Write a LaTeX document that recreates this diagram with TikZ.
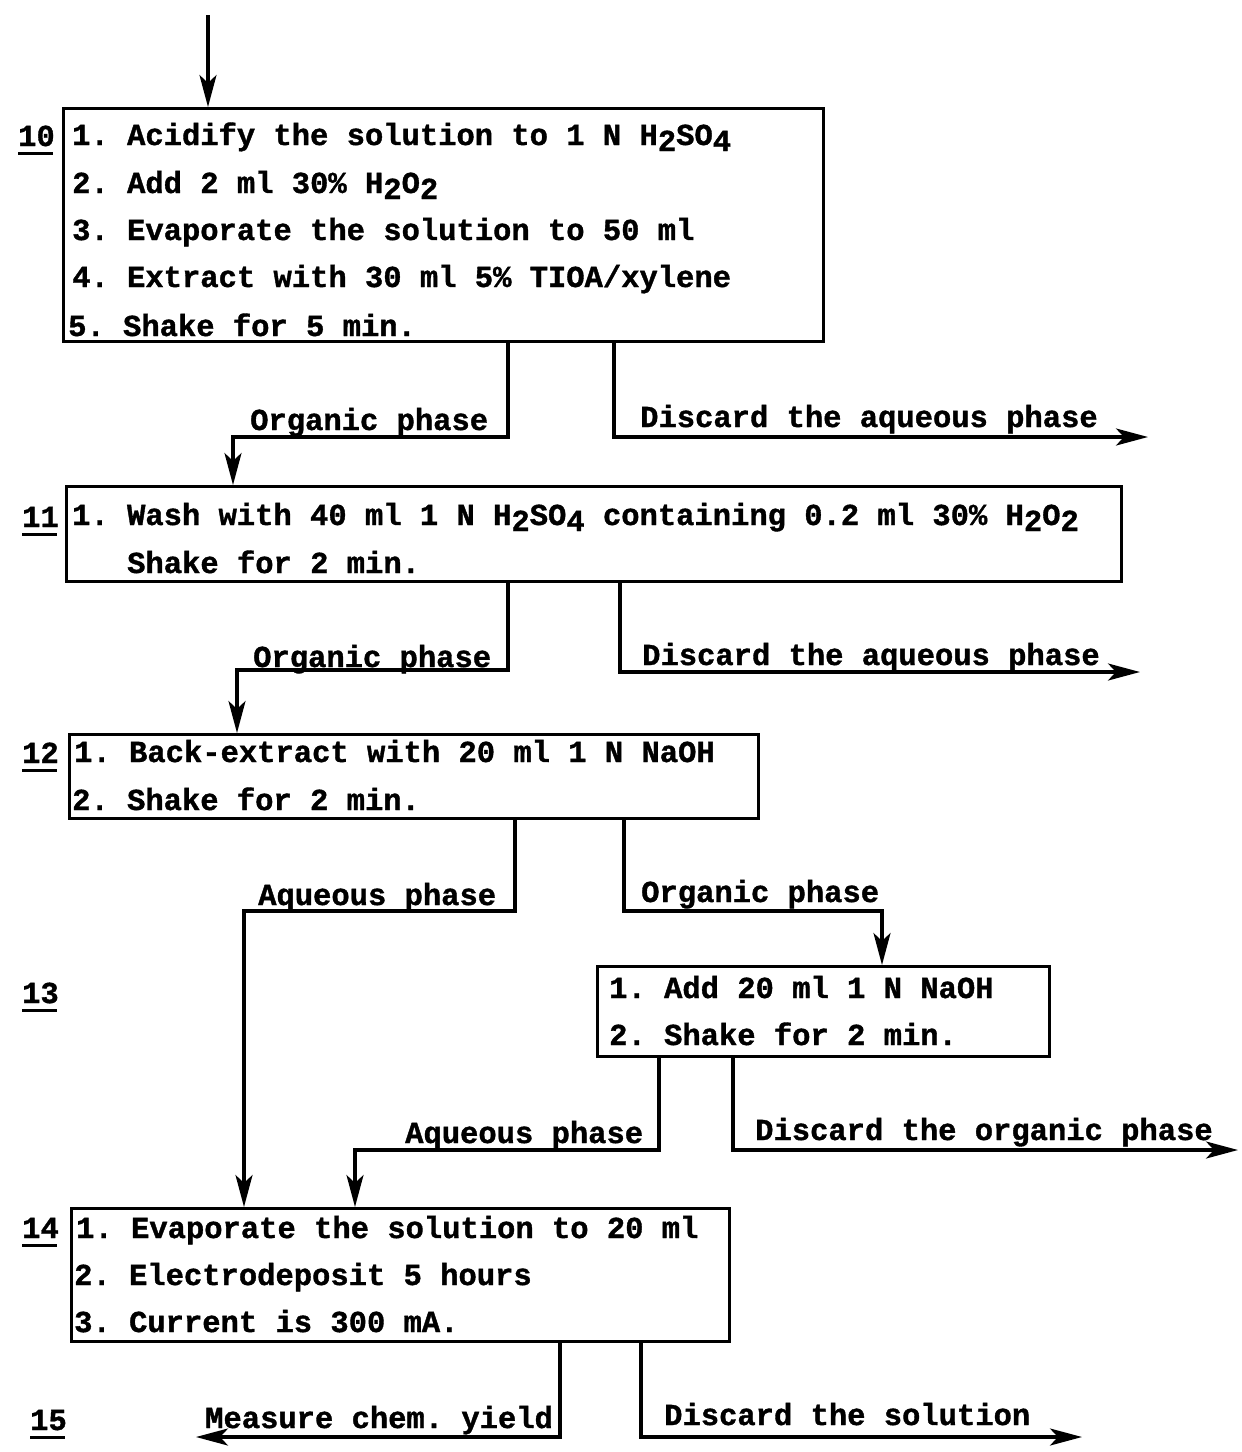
\documentclass[tikz,border=0pt]{standalone}
\usepackage{fontspec}
\setmonofont[BoldFeatures={FakeBold=1.2}]{Liberation Mono}
\usetikzlibrary{arrows.meta}
\newcommand\lowr[1]{\raisebox{-6pt}{#1}}
\newcommand\stepnum[1]{\rlap{\raisebox{-9pt}{\rule{1.15em}{2.6pt}}}#1}
\begin{document}
\begin{tikzpicture}[x=1pt,y=-1pt,
  box/.style={draw,line width=3.4pt,inner sep=0pt,anchor=north west},
  txt/.style={anchor=base west,inner sep=0pt,font=\ttfamily\bfseries\fontsize{30.5}{30.5}\selectfont},
  num/.style={txt},
  flow/.style={line width=3.2pt},
  arr/.style={flow,-{Stealth[length=32pt,width=17pt,inset=8pt]}}]
\useasboundingbox (0,0) rectangle (1242,1452);
\fill[white] (0,0) rectangle (1242,1452);

% boxes
\node[box,minimum width=760pt,minimum height=233pt] (b10) at (62,107) {};
\node[box,minimum width=1055pt,minimum height=95pt] (b11) at (65,485) {};
\node[box,minimum width=689pt,minimum height=84pt] (b12) at (68,733) {};
\node[box,minimum width=452pt,minimum height=90pt] (b13) at (596,965) {};
\node[box,minimum width=658pt,minimum height=133pt] (b14) at (70,1207) {};

% step numbers
\node[num] (n10) at (18,146) {\stepnum{10}};
\node[num] (n11) at (22,527) {\stepnum{11}};
\node[num] (n12) at (22,763) {\stepnum{12}};
\node[num] (n13) at (22,1003) {\stepnum{13}};
\node[num] (n14) at (22,1238) {\stepnum{14}};
\node[num] (n15) at (30,1430) {\stepnum{15}};

% box 10 text
\node[txt] (t10a) at (72,145) {1. Acidify the solution to 1 N H\lowr{2}SO\lowr{4}};
\node[txt] (t10b) at (72,193) {2. Add 2 ml 30\% H\lowr{2}O\lowr{2}};
\node[txt] (t10c) at (72,240) {3. Evaporate the solution to 50 ml};
\node[txt] (t10d) at (72,287) {4. Extract with 30 ml 5\% TIOA/xylene};
\node[txt] (t10e) at (68,336) {5. Shake for 5 min.};

% box 11 text
\node[txt] (t11a) at (72,525) {1. Wash with 40 ml 1 N H\lowr{2}SO\lowr{4} containing 0.2 ml 30\% H\lowr{2}O\lowr{2}};
\node[txt] (t11b) at (127,573) {Shake for 2 min.};

% box 12 text
\node[txt] (t12a) at (74,762) {1. Back-extract with 20 ml 1 N NaOH};
\node[txt] (t12b) at (72,810) {2. Shake for 2 min.};

% box 13 text
\node[txt] (t13a) at (609,998) {1. Add 20 ml 1 N NaOH};
\node[txt] (t13b) at (609,1045) {2. Shake for 2 min.};

% box 14 text
\node[txt] (t14a) at (76,1238) {1. Evaporate the solution to 20 ml};
\node[txt] (t14b) at (74,1285) {2. Electrodeposit 5 hours};
\node[txt] (t14c) at (74,1332) {3. Current is 300 mA.};

% connector labels
\node[txt] (l1) at (250,430) {Organic phase};
\node[txt] (l2) at (640,427) {Discard the aqueous phase};
\node[txt] (l3) at (253,667) {Organic phase};
\node[txt] (l4) at (642,665) {Discard the aqueous phase};
\node[txt] (l5) at (258,905) {Aqueous phase};
\node[txt] (l6) at (641,902) {Organic phase};
\node[txt] (l7) at (405,1143) {Aqueous phase};
\node[txt] (l8) at (755,1140) {Discard the organic phase};
\node[txt] (l9) at (205,1428) {Measure chem. yield};
\node[txt] (l10) at (664,1425) {Discard the solution};

% coordinates
\coordinate (top) at (208,15);
\coordinate (c1) at (233,437);
\coordinate (d1) at (1148,437);
\coordinate (c2) at (237,670);
\coordinate (d2) at (1140,672);
\coordinate (c3) at (244,911);
\coordinate (c4) at (882,911);
\coordinate (c5) at (355,1150);
\coordinate (d5) at (1238,1150);
\coordinate (d6) at (196,1437);
\coordinate (d7) at (1082,1437);

% connectors
\draw[arr] (top) -- (b10.north -| top);
\draw[arr] (b10.south -| 508,0) |- (c1) -- (b11.north -| c1);
\draw[arr] (b10.south -| 614,0) |- (d1);
\draw[arr] (b11.south -| 508,0) |- (c2) -- (b12.north -| c2);
\draw[arr] (b11.south -| 620,0) |- (d2);
\draw[arr] (b12.south -| 515,0) |- (c3) -- (b14.north -| c3);
\draw[arr] (b12.south -| 624,0) |- (c4) -- (b13.north -| c4);
\draw[arr] (b13.south -| 659,0) |- (c5) -- (b14.north -| c5);
\draw[arr] (b13.south -| 733,0) |- (d5);
\draw[arr] (b14.south -| 560,0) |- (d6);
\draw[arr] (b14.south -| 641,0) |- (d7);
\end{tikzpicture}
\end{document}
